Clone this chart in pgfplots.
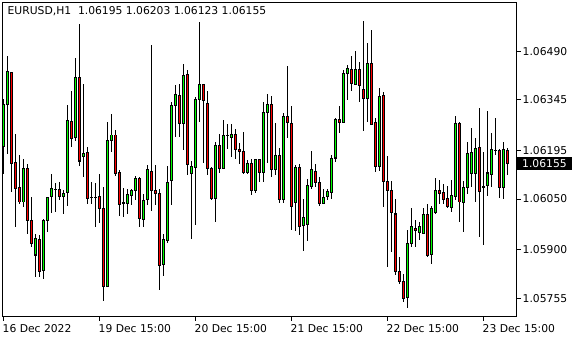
\documentclass[border=0pt]{standalone}
\usepackage{pgfplots}
\usepackage{pgfplotstable}
\pgfplotsset{compat=1.18}
\usepackage{fontspec}
\setmainfont{DejaVu Sans}

\pgfplotstableread{
x o h l c
0 1.06207 1.06348 1.06125 1.06333
1 1.06333 1.06477 1.06185 1.06428
2 1.06425 1.06428 1.06071 1.06155
3 1.06158 1.06244 1.05966 1.06081
4 1.06083 1.06182 1.06034 1.06041
5 1.06041 1.06170 1.06026 1.06140
6 1.06140 1.06155 1.05947 1.05986
7 1.05986 1.06056 1.05907 1.05917
8 1.05884 1.05947 1.05818 1.05932
9 1.05929 1.05942 1.05818 1.05833
10 1.05837 1.05991 1.05813 1.05986
11 1.05988 1.06056 1.05952 1.06054
12 1.06056 1.06125 1.06008 1.06081
13 1.06077 1.06097 1.06011 1.06079
14 1.06078 1.06102 1.06048 1.06056
15 1.06056 1.06078 1.06006 1.06066
16 1.06068 1.06331 1.06029 1.06284
17 1.06281 1.06371 1.06205 1.06232
18 1.06234 1.06470 1.06224 1.06411
19 1.06410 1.06572 1.06148 1.06163
20 1.06175 1.06393 1.06117 1.06185
21 1.06188 1.06205 1.06036 1.06051
22 1.06055 1.06100 1.06036 1.06053
23 1.06053 1.06097 1.05966 1.06055
24 1.06056 1.06125 1.05978 1.06021
25 1.06021 1.06085 1.05748 1.05790
26 1.05790 1.06279 1.05790 1.06224
27 1.06224 1.06302 1.06190 1.06241
28 1.06241 1.06254 1.06120 1.06127
29 1.06130 1.06135 1.06001 1.06034
30 1.06037 1.06083 1.05996 1.06039
31 1.06036 1.06081 1.06006 1.06063
32 1.06061 1.06081 1.06031 1.06074
33 1.06074 1.06120 1.06046 1.06113
34 1.06113 1.06117 1.05968 1.05994
35 1.05991 1.06066 1.05966 1.06046
36 1.06048 1.06150 1.06031 1.06137
37 1.06133 1.06507 1.06014 1.06074
38 1.06074 1.06150 1.06031 1.06066
39 1.06066 1.06081 1.05780 1.05854
40 1.05857 1.05947 1.05820 1.05929
41 1.05927 1.06147 1.05920 1.06100
42 1.06105 1.06338 1.06031 1.06330
43 1.06329 1.06388 1.06234 1.06363
44 1.06358 1.06393 1.06234 1.06276
45 1.06276 1.06451 1.06195 1.06418
46 1.06421 1.06433 1.06122 1.06152
47 1.06127 1.06162 1.05932 1.06147
48 1.06145 1.06353 1.05974 1.06346
49 1.06347 1.06577 1.06278 1.06390
50 1.06390 1.06392 1.06158 1.06345
51 1.06336 1.06371 1.06122 1.06142
52 1.06140 1.06145 1.06048 1.06051
53 1.06051 1.06221 1.05981 1.06209
54 1.06209 1.06244 1.06127 1.06142
55 1.06142 1.06284 1.06140 1.06239
56 1.06239 1.06274 1.06198 1.06240
57 1.06234 1.06274 1.06175 1.06244
58 1.06244 1.06257 1.06169 1.06197
59 1.06197 1.06216 1.06155 1.06190
60 1.06192 1.06251 1.06124 1.06129
61 1.06130 1.06166 1.06125 1.06157
62 1.06155 1.06169 1.06063 1.06074
63 1.06074 1.06170 1.06068 1.06167
64 1.06167 1.06170 1.06100 1.06130
65 1.06130 1.06338 1.06100 1.06307
66 1.06307 1.06363 1.06157 1.06333
67 1.06333 1.06358 1.06115 1.06137
68 1.06137 1.06277 1.06122 1.06179
69 1.06179 1.06202 1.06039 1.06048
70 1.06049 1.06307 1.06038 1.06295
71 1.06295 1.06445 1.06231 1.06277
72 1.06275 1.06326 1.05957 1.06029
73 1.06039 1.06150 1.05955 1.06143
74 1.06143 1.06155 1.05944 1.05969
75 1.05973 1.06049 1.05895 1.05996
76 1.05974 1.06110 1.05925 1.06090
77 1.06088 1.06192 1.06081 1.06137
78 1.06133 1.06155 1.06085 1.06100
79 1.06100 1.06117 1.06029 1.06036
80 1.06036 1.06081 1.06034 1.06054
81 1.06056 1.06081 1.06046 1.06071
82 1.06068 1.06180 1.06049 1.06170
83 1.06172 1.06291 1.06160 1.06287
84 1.06287 1.06326 1.06246 1.06277
85 1.06279 1.06433 1.06279 1.06423
86 1.06423 1.06450 1.06345 1.06438
87 1.06435 1.06477 1.06373 1.06393
88 1.06390 1.06492 1.06388 1.06435
89 1.06435 1.06457 1.06338 1.06388
90 1.06375 1.06581 1.06252 1.06351
91 1.06351 1.06514 1.06279 1.06453
92 1.06453 1.06554 1.06269 1.06271
93 1.06277 1.06291 1.06130 1.06147
94 1.06147 1.06381 1.06133 1.06356
95 1.06360 1.06368 1.06026 1.06103
96 1.06102 1.06177 1.05849 1.06074
97 1.06074 1.06103 1.05892 1.06011
98 1.06006 1.06051 1.05823 1.05835
99 1.05835 1.05879 1.05798 1.05805
100 1.05805 1.05828 1.05743 1.05756
101 1.05758 1.05959 1.05726 1.05917
102 1.05917 1.06024 1.05907 1.05969
103 1.05963 1.05989 1.05907 1.05957
104 1.05950 1.05983 1.05927 1.05969
105 1.05947 1.06024 1.05947 1.06004
106 1.06004 1.06034 1.05877 1.05882
107 1.05885 1.06028 1.05857 1.06023
108 1.06011 1.06113 1.06006 1.06076
109 1.06076 1.06107 1.06036 1.06066
110 1.06069 1.06095 1.06034 1.06048
111 1.06051 1.06090 1.06024 1.06028
112 1.06026 1.06107 1.06011 1.06059
113 1.06056 1.06296 1.06046 1.06274
114 1.06276 1.06278 1.05981 1.06041
115 1.06039 1.06105 1.05952 1.06083
116 1.06085 1.06219 1.06066 1.06185
117 1.06127 1.06261 1.06087 1.06188
118 1.06127 1.06231 1.06041 1.06200
119 1.06204 1.06321 1.05937 1.06071
120 1.06084 1.06190 1.05912 1.06086
121 1.06090 1.06312 1.06059 1.06128
122 1.06125 1.06247 1.06085 1.06197
123 1.06195 1.06291 1.06180 1.06194
124 1.06195 1.06200 1.06053 1.06083
125 1.06083 1.06221 1.06049 1.06197
126 1.06195 1.06203 1.06123 1.06155
}\candles

\begin{document}
\begin{tikzpicture}
\path[use as bounding box] (-2.5bp,-23.5bp) rectangle (577.5bp,316.5bp);
\begin{axis}[
  at={(0,0)}, anchor=south west,
  scale only axis, width=514bp, height=314bp,
  xmin=-0.25, xmax=128.25,
  ymin=1.057005, ymax=1.066349,
  clip mode=individual,
  axis line style={black, line width=1bp},
  xtick={0,24,48,72,96,120},
  xticklabels={16 Dec 2022,19 Dec 15:00,20 Dec 15:00,21 Dec 15:00,22 Dec 15:00,23 Dec 15:00},
  ytick={1.05755,1.05900,1.06050,1.06195,1.06345,1.06490},
  yticklabels={1.05755,1.05900,1.06050,1.06195,1.06345,1.06490},
  xtick pos=bottom, ytick pos=right,
  yticklabel pos=right,
  tick align=outside, major tick length=4bp,
  tick style={black, line width=1bp},
  tick label style={font=\fontsize{10.8}{13}\selectfont, text=black},
  xticklabel style={anchor=north west, inner sep=0pt, xshift=-1bp, yshift=-4bp},
  yticklabel style={anchor=west, inner sep=0pt, xshift=2bp},
]
\pgfplotsinvokeforeach{0,...,126}{%
  \pgfplotstablegetelem{#1}{o}\of\candles \let\cO\pgfplotsretval
  \pgfplotstablegetelem{#1}{h}\of\candles \let\cH\pgfplotsretval
  \pgfplotstablegetelem{#1}{l}\of\candles \let\cL\pgfplotsretval
  \pgfplotstablegetelem{#1}{c}\of\candles \let\cC\pgfplotsretval
  \pgfmathsetmacro\xa{#1-0.375}%
  \pgfmathsetmacro\xb{#1+0.375}%
  \pgfmathsetmacro\wa{#1-0.125}%
  \pgfmathsetmacro\wb{#1+0.125}%
  \pgfmathtruncatemacro\isbull{\cC>\cO ? 1 : 0}%
  \ifnum\isbull=1 \let\bLo\cO\let\bHi\cC
  \else\let\bLo\cC\let\bHi\cO\fi
  \pgfmathsetmacro\kLo{\bLo-0.000015}%
  \pgfmathsetmacro\kHi{\bHi+0.000015}%
  \pgfmathsetmacro\iLo{\bLo+0.000015}%
  \pgfmathsetmacro\iHi{\bHi-0.000015}%
  \pgfmathtruncatemacro\isbig{(\bHi-\bLo)>0.000045 ? 1 : 0}%
  \edef\doit{%
    \noexpand\addplot[fill=black, draw=none] coordinates {(\wa,\cL) (\wb,\cL) (\wb,\cH) (\wa,\cH)};
    \noexpand\addplot[fill=black, draw=none] coordinates {(\xa,\kLo) (\xb,\kLo) (\xb,\kHi) (\xa,\kHi)};
  }\doit
  \ifnum\isbig=1
    \ifnum\isbull=1
      \edef\doitb{%
        \noexpand\addplot[fill=green, draw=none] coordinates {(\wa,\iLo) (\wb,\iLo) (\wb,\iHi) (\wa,\iHi)};
        \noexpand\addplot[green, line width=0.9bp] coordinates {(#1,\iLo) (#1,\iHi)};
      }%
    \else
      \edef\doitb{%
        \noexpand\addplot[fill=red, draw=none] coordinates {(\wa,\iLo) (\wb,\iLo) (\wb,\iHi) (\wa,\iHi)};
        \noexpand\addplot[red, line width=0.9bp] coordinates {(#1,\iLo) (#1,\iHi)};
      }%
    \fi
    \doitb
  \fi
}
\node[anchor=north west, inner sep=0pt, font=\fontsize{10.8}{13}\selectfont]
  at (rel axis cs:0,1) [xshift=5bp, yshift=-4bp] {EURUSD,H1\ \ 1.06195 1.06203 1.06123 1.06155};
\node[fill=black, text=white, anchor=west, inner xsep=5bp, inner ysep=0pt, minimum height=13bp,
  font=\fontsize{10.8}{13}\selectfont]
  at (axis cs:128.25,1.06155) [xshift=0.5bp] {1.06155};
\end{axis}
\end{tikzpicture}
\end{document}
